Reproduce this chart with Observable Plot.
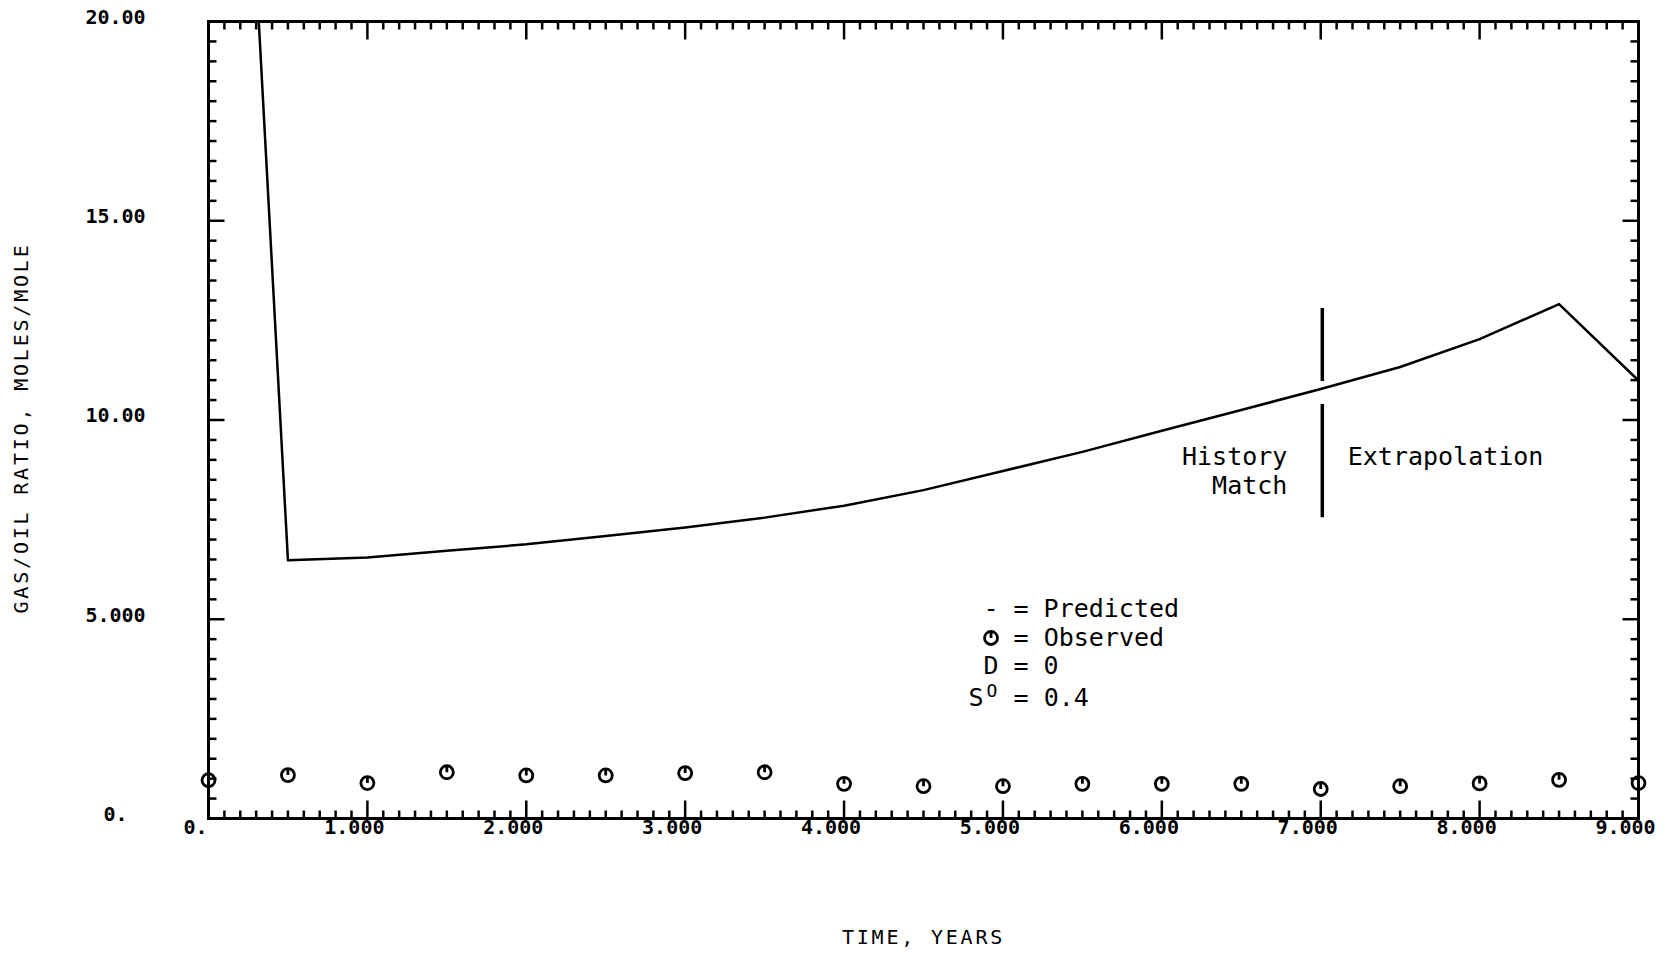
<!DOCTYPE html>
<html>
<head>
<meta charset="utf-8">
<script src="https://cdn.jsdelivr.net/npm/d3@7"></script>
<script src="https://cdn.jsdelivr.net/npm/@observablehq/plot@0.6"></script>
<style>
  html, body { margin: 0; padding: 0; background: #fff; }
  .axis-title text { letter-spacing: 2.8px; }
</style>
</head>
<body>
<div id="chart"></div>
<script>
// ---- data ----
const years = [0, 0.5, 1, 1.5, 2, 2.5, 3, 3.5, 4, 4.5, 5, 5.5, 6, 6.5, 7, 7.5, 8, 8.5, 9];
const predicted = [43.3, 6.48, 6.55, 6.72, 6.88, 7.09, 7.30, 7.55, 7.85, 8.24, 8.72, 9.20, 9.73, 10.25, 10.78, 11.33, 12.03, 12.91, 10.99];
const observed = [0.96, 1.09, 0.89, 1.16, 1.08, 1.08, 1.14, 1.16, 0.87, 0.81, 0.81, 0.87, 0.87, 0.87, 0.74, 0.81, 0.88, 0.97, 0.89];

const xTickValues = [0, 1, 2, 3, 4, 5, 6, 7, 8, 9];
const xTickLabels = ["0.", "1.000", "2.000", "3.000", "4.000", "5.000", "6.000", "7.000", "8.000", "9.000"];
const yTickValues = [0, 5, 10, 15, 20];
const yTickLabels = ["0.", "5.000", "10.00", "15.00", "20.00"];

const xTitle = "TIME, YEARS";
const yTitle = "GAS/OIL RATIO, MOLES/MOLE";

// History match / extrapolation divider (time, value range)
const dividerTime = 7.01;
const dividerSegments = [[10.98, 12.81], [7.56, 10.40]];

// annotation texts (in data coordinates)
const leftLabels = [
  {t: 6.79, v: 9.07, text: "History"},
  {t: 6.79, v: 8.34, text: "Match"}
];
const rightLabels = [
  {t: 7.17, v: 9.07, text: "Extrapolation"}
];
const legendRows = [
  {t: 4.877, v: 5.26, text: "- = Predicted"},
  {t: 5.067, v: 4.53, text: "= Observed"},
  {t: 4.877, v: 3.82, text: "D = 0"},
  {t: 5.067, v: 3.02, text: "= 0.4"}
];
const legendSymbol = {t: 4.925, v: 4.53};
const legendS = {t: 4.783, v: 3.02, text: "S"};
const legendSup = {t: 4.93, v: 3.2, text: "O"};

// ---- derived tables ----
const predData = years.map((t, i) => ({t, v: predicted[i]}));
const obsData = years.map((t, i) => ({t, v: observed[i]}));
const xMinor = d3.range(0, 91).map(i => i / 10).filter(d => Math.abs(d - Math.round(d)) > 1e-9);
const yMinor = d3.range(0, 41).map(i => i / 2).filter(d => d % 5 !== 0);

// tick lengths expressed in data units (pixel / scale factor)
const W = 1667, H = 961;
const mL = 208, mR = 29, mT = 21, mB = 143;
const pxX = 9 / (W - mL - mR);
const pxY = 20 / (H - mT - mB);

const obsSymbolShape = {
  draw(ctx, size) {
    const r = Math.sqrt(size / Math.PI);
    ctx.moveTo(r, 0);
    ctx.arc(0, 0, r, 0, 2 * Math.PI);
    ctx.moveTo(0, -r);
    ctx.lineTo(0, 0);
  }
};

const mono = "'DejaVu Sans Mono', 'Liberation Mono', monospace";

const chart = Plot.plot({
  width: W,
  height: H,
  marginLeft: mL,
  marginRight: mR,
  marginTop: mT,
  marginBottom: mB,
  x: {domain: [0, 9], axis: null},
  y: {domain: [0, 20], axis: null},
  style: {background: "#fff", color: "#000"},
  marks: [
    // ticks: bottom & top
    Plot.link(xMinor, {x1: d => d, x2: d => d, y1: 0, y2: 8 * pxY, stroke: "#000", strokeWidth: 2.5}),
    Plot.link(xTickValues, {x1: d => d, x2: d => d, y1: 0, y2: 18 * pxY, stroke: "#000", strokeWidth: 2.5}),
    Plot.link(xMinor, {x1: d => d, x2: d => d, y1: 20, y2: 20 - 8 * pxY, stroke: "#000", strokeWidth: 2.5}),
    Plot.link(xTickValues, {x1: d => d, x2: d => d, y1: 20, y2: 20 - 18 * pxY, stroke: "#000", strokeWidth: 2.5}),
    // ticks: left & right
    Plot.link(yMinor, {y1: d => d, y2: d => d, x1: 0, x2: 8 * pxX, stroke: "#000", strokeWidth: 2.5}),
    Plot.link(yTickValues, {y1: d => d, y2: d => d, x1: 0, x2: 16 * pxX, stroke: "#000", strokeWidth: 2.5}),
    Plot.link(yMinor, {y1: d => d, y2: d => d, x1: 9, x2: 9 - 8 * pxX, stroke: "#000", strokeWidth: 2.5}),
    Plot.link(yTickValues, {y1: d => d, y2: d => d, x1: 9, x2: 9 - 16 * pxX, stroke: "#000", strokeWidth: 2.5}),
    Plot.frame({stroke: "#000", strokeWidth: 3}),
    // tick labels
    Plot.text(xTickValues, {x: d => d, text: (d, i) => xTickLabels[i], frameAnchor: "bottom", dy: 15, dx: -13,
      fontFamily: mono, fontWeight: "bold", fontSize: 20, textAnchor: "middle", fill: "#000"}),
    Plot.text(yTickValues, {y: d => d, text: (d, i) => yTickLabels[i], frameAnchor: "left", dx: -93, dy: -4,
      fontFamily: mono, fontWeight: "bold", fontSize: 20, textAnchor: "middle", fill: "#000"}),
    // axis titles
    Plot.text([xTitle], {x: 4.5, text: d => d, frameAnchor: "bottom", dy: 125, className: "axis-title",
      fontFamily: mono, fontSize: 20, fill: "#000", textAnchor: "middle"}),
    Plot.text([yTitle], {y: 9.8, text: d => d, frameAnchor: "left", dx: -187, rotate: -90, className: "axis-title",
      fontFamily: mono, fontSize: 20, fill: "#000", textAnchor: "middle"}),
    // predicted line
    Plot.line(predData, {x: "t", y: "v", stroke: "#000", strokeWidth: 2.5, clip: true}),
    // observed points
    Plot.dot(obsData, {x: "t", y: "v", symbol: obsSymbolShape, r: 6.5, stroke: "#000", strokeWidth: 2.8, fill: "none"}),
    // divider
    Plot.link(dividerSegments, {x1: dividerTime, x2: dividerTime, y1: d => d[0], y2: d => d[1], stroke: "#000", strokeWidth: 3.5}),
    // side labels
    Plot.text(leftLabels, {x: "t", y: "v", text: "text", textAnchor: "end", fontFamily: mono, fontSize: 25, fill: "#000"}),
    Plot.text(rightLabels, {x: "t", y: "v", text: "text", textAnchor: "start", fontFamily: mono, fontSize: 25, fill: "#000"}),
    // legend
    Plot.text(legendRows, {x: "t", y: "v", text: "text", textAnchor: "start", fontFamily: mono, fontSize: 25, fill: "#000"}),
    Plot.dot([legendSymbol], {x: "t", y: "v", symbol: obsSymbolShape, r: 6.5, stroke: "#000", strokeWidth: 2.8, fill: "none"}),
    Plot.text([legendS], {x: "t", y: "v", text: "text", textAnchor: "start", fontFamily: mono, fontSize: 25, fill: "#000"}),
    Plot.text([legendSup], {x: "t", y: "v", text: "text", textAnchor: "middle", fontFamily: mono, fontSize: 18, fill: "#000"})
  ]
});
document.getElementById("chart").appendChild(chart);
</script>
</body>
</html>
